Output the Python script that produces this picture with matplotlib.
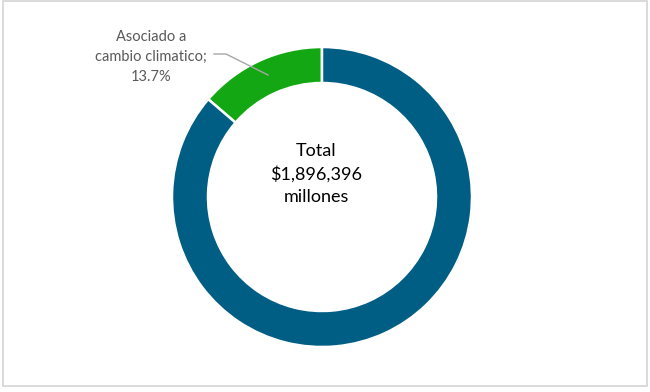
import matplotlib.pyplot as plt
from matplotlib.patches import Rectangle

# Data
labels = ["Asociado a\ncambio climatico;", "Otros"]
shares = [13.7, 86.3]
colors = ["#13A813", "#005E85"]
center_text = "Total\n$1,896,396\nmillones"

W, H = 650, 392
fig = plt.figure(figsize=(W / 100, H / 100), dpi=100)

# outer frame
fig.patches.append(Rectangle((3 / W, 6 / H), 644 / W, 385 / H, transform=fig.transFigure,
                             fill=False, edgecolor="#D4D4D4", linewidth=1.2))

# donut axes: center (322, 197) px, radius 150 px
cx, cy, r = 322, 197, 150
ax = fig.add_axes([(cx - r) / W, (H - cy - r) / H, 2 * r / W, 2 * r / H])
ax.pie(shares, colors=colors, startangle=90, counterclock=True, radius=1,
       wedgeprops=dict(width=0.24, edgecolor="white", linewidth=1.8))
ax.set_xlim(-1, 1)
ax.set_ylim(-1, 1)
ax.set_aspect("equal")
ax.axis("off")

# center label
fig.text(316 / W, 1 - 174 / H, center_text, ha="center", va="center",
         fontsize=13, family="Lato", color="black", linespacing=1.47)

# slice label with leader line
fig.text(151 / W, 1 - 57 / H, f"{labels[0]}\n{shares[0]}%", ha="center", va="center",
         fontsize=10.5, family="Lato", color="#595959", linespacing=1.53)
fig.add_artist(plt.Line2D([214 / W, 226 / W, 268 / W],
                          [1 - 54 / H, 1 - 54 / H, 1 - 75 / H],
                          transform=fig.transFigure, color="#A6A6A6", linewidth=1))

fig.savefig("out.png", dpi=100)
